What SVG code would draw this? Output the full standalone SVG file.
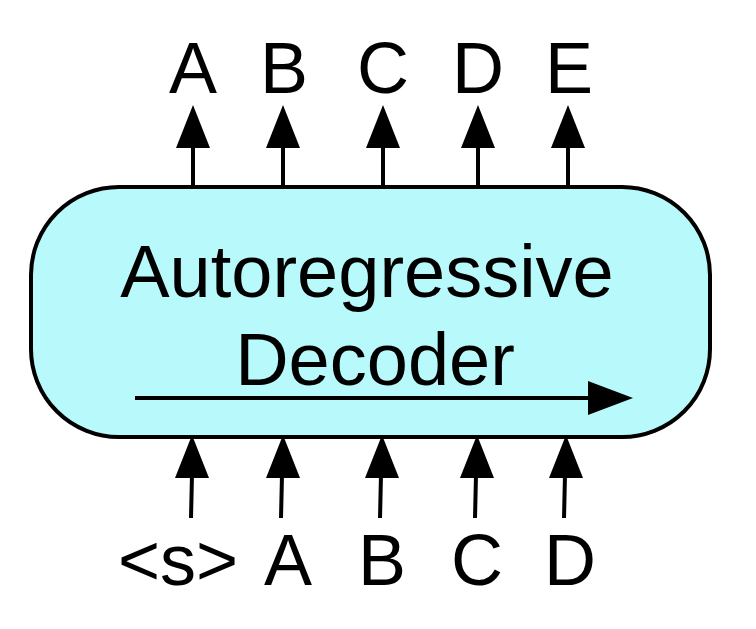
<svg xmlns="http://www.w3.org/2000/svg" width="756" height="629" viewBox="0 0 756 629">
<defs>
<style>
.lbl{font-family:"Liberation Sans",Arial,sans-serif;font-size:72px;fill:#000;text-anchor:middle}
.conn line{stroke:#000;stroke-width:4}
.head{fill:#000}
</style>
</defs>
<rect width="756" height="629" fill="#fff"/>
<g id="decoder">
<rect x="31" y="187" width="679" height="250" rx="88" ry="88" fill="#b8f9fc" stroke="#000" stroke-width="4"/>
<text class="lbl" x="367" y="297" font-size="74" style="font-size:74px">Autoregressive</text>
<text class="lbl" x="375" y="385" style="font-size:74px">Decoder</text>
<line x1="135" y1="398" x2="592" y2="398" stroke="#000" stroke-width="4"/>
<polygon class="head" points="588,381 633,398 588,415"/>
</g>
<g id="outputs">
<text class="lbl" x="193" y="93">A</text>
<text class="lbl" x="284" y="93">B</text>
<text class="lbl" x="383" y="93">C</text>
<text class="lbl" x="478" y="93">D</text>
<text class="lbl" x="569" y="93">E</text>
</g>
<g id="inputs">
<text class="lbl" x="178" y="585">&lt;s&gt;</text>
<text class="lbl" x="288" y="585">A</text>
<text class="lbl" x="382" y="585">B</text>
<text class="lbl" x="477" y="585">C</text>
<text class="lbl" x="570" y="585">D</text>
</g>
<g id="connectors" class="conn">
<line x1="193" y1="187" x2="193" y2="145"/><polygon class="head" points="193,105 176,148 210,148"/>
<line x1="283" y1="187" x2="283" y2="145"/><polygon class="head" points="283,105 266,148 300,148"/>
<line x1="383" y1="187" x2="383" y2="145"/><polygon class="head" points="383,105 366,148 400,148"/>
<line x1="478" y1="187" x2="478" y2="145"/><polygon class="head" points="478,105 461,148 495,148"/>
<line x1="568" y1="187" x2="568" y2="145"/><polygon class="head" points="568,105 551,148 585,148"/>
<line x1="191" y1="518" x2="192" y2="475"/><polygon class="head" points="192,435 175,478 209,478"/>
<line x1="281" y1="518" x2="282" y2="475"/><polygon class="head" points="283,435 266,478 300,478"/>
<line x1="380" y1="518" x2="381" y2="475"/><polygon class="head" points="382,435 365,478 399,478"/>
<line x1="475" y1="518" x2="476" y2="475"/><polygon class="head" points="477,435 460,478 494,478"/>
<line x1="564" y1="518" x2="565" y2="475"/><polygon class="head" points="566,435 549,478 583,478"/>
</g>
</svg>
